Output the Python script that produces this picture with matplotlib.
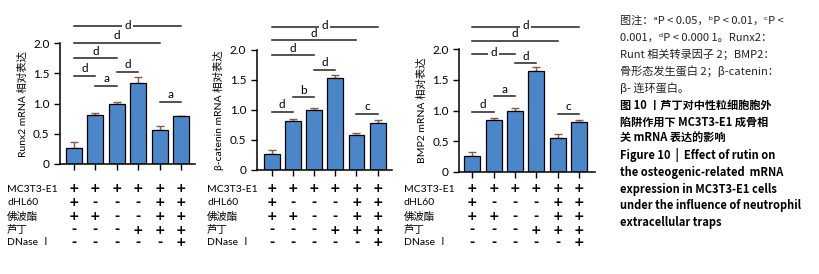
import matplotlib
matplotlib.use('Agg')
import matplotlib.pyplot as plt
from matplotlib.transforms import blended_transform_factory
import numpy as np

plt.rcParams['font.family'] = ['Lato', 'Noto Sans CJK SC', 'DejaVu Sans']

# Bar values (relative expression) and upper error
runx2 = [0.26, 0.82, 0.99, 1.35, 0.57, 0.79]
runx2_err = [0.10, 0.02, 0.03, 0.09, 0.06, 0.01]
bcat = [0.26, 0.81, 1.00, 1.54, 0.59, 0.79]
bcat_err = [0.08, 0.04, 0.03, 0.05, 0.02, 0.05]
bmp2 = [0.25, 0.84, 1.00, 1.65, 0.55, 0.82]
bmp2_err = [0.07, 0.04, 0.04, 0.06, 0.07, 0.03]

ylabels = ['Runx2 mRNA 相对表达', 'β-catenin mRNA 相对表达', 'BMP2 mRNA 相对表达']

# significance brackets: (from, to, height, letter, text on the line)
sig_runx2 = [(0, 5, 2.28, 'd', True), (0, 4, 2.00, 'd', False), (0, 2, 1.75, 'd', False),
             (0, 1, 1.46, 'd', False), (1, 2, 1.29, 'a', False), (2, 3, 1.53, 'd', False),
             (4, 5, 1.03, 'a', False)]
sig_bcat = [(0, 5, 2.39, 'd', True), (0, 4, 2.16, 'd', False), (0, 2, 1.91, 'd', False),
            (2, 3, 1.67, 'd', False), (0, 1, 0.97, 'd', False), (1, 2, 1.21, 'b', False),
            (4, 5, 0.93, 'c', False)]
sig_bmp2 = [(0, 5, 2.37, 'd', True), (0, 4, 2.14, 'd', False), (0, 2, 1.93, 'd', True),
            (2, 3, 1.77, 'd', False), (0, 1, 0.98, 'd', False), (1, 2, 1.23, 'a', False),
            (4, 5, 0.95, 'c', False)]

# treatment table
row_names = ['MC3T3-E1', 'dHL60', '佛波酯', '芦丁', 'DNase Ⅰ']
row_signs = [
    ['+', '+', '+', '+', '+', '+'],
    ['+', '-', '-', '-', '+', '+'],
    ['+', '+', '-', '-', '+', '+'],
    ['-', '-', '-', '+', '+', '+'],
    ['-', '-', '-', '-', '-', '+'],
]

caption = [
    ('图注：ᵃP < 0.05，ᵇP < 0.01，ᶜP <', 'normal'),
    ('0.001，ᵈP < 0.000 1。Runx2：', 'normal'),
    ('Runt 相关转录因子 2；BMP2：', 'normal'),
    ('骨形态发生蛋白 2；β-catenin：', 'normal'),
    ('β- 连环蛋白。', 'normal'),
    ('图 10 丨芦丁对中性粒细胞胞外', 'bold'),
    ('陷阱作用下 MC3T3-E1 成骨相', 'bold'),
    ('关 mRNA 表达的影响', 'bold'),
    ('Figure 10  |  Effect of rutin on', 'bold'),
    ('the osteogenic-related  mRNA', 'bold'),
    ('expression in MC3T3-E1 cells', 'bold'),
    ('under the influence of neutrophil', 'bold'),
    ('extracellular traps', 'bold'),
]

W, H = 819, 274
fig = plt.figure(figsize=(W / 100, H / 100), dpi=100)

# axes boxes in pixels: left, right, bottom(0), top(2.0), xlim, table label x
boxes = [(60, 195, 164, 43.3, (-0.65, 5.65), 7),
         (256.7, 391.7, 170, 50, (-0.7, 5.66), 207),
         (459.3, 595, 171.7, 49.3, (-0.61, 5.75), 404)]
panels = [(runx2, runx2_err, sig_runx2), (bcat, bcat_err, sig_bcat), (bmp2, bmp2_err, sig_bmp2)]
table_y = [189, 202.3, 216.7, 230, 242.7]

for (vals, errs, sigs), (l, r, b, t, xl, labx), ylab in zip(panels, boxes, ylabels):
    ax = fig.add_axes([l / W, 1 - b / H, (r - l) / W, (b - t) / H])
    x = np.arange(len(vals))
    ax.errorbar(x, vals, yerr=[np.zeros(len(errs)), errs], fmt='none',
                ecolor='#8a5a44', elinewidth=1.0, capsize=3, capthick=1.0, zorder=1)
    ax.bar(x, vals, width=0.75, color='#4a86c8', edgecolor='black', linewidth=0.9, zorder=2)
    ax.set_xlim(*xl)
    ax.set_ylim(0, 2.0)
    ax.set_yticks([0, 0.5, 1.0, 1.5, 2.0])
    ax.set_yticklabels(['0', '0.5', '1.0', '1.5', '2.0'], fontsize=8.5)
    ax.set_xticks(x)
    ax.set_xticklabels([])
    ax.tick_params(axis='both', direction='out', length=4, width=1.0)
    ax.spines['top'].set_visible(False)
    ax.spines['right'].set_visible(False)
    ax.spines['left'].set_linewidth(1.1)
    ax.spines['bottom'].set_linewidth(1.1)
    ax.set_ylabel(ylab, fontsize=7.5, labelpad=4)

    for s, e, h, lab, inline in sigs:
        ax.plot([s, e], [h, h], color='#222222', lw=1.1, clip_on=False)
        if inline:
            ax.text((s + e) / 2, h + 0.02, lab, ha='center', va='center', fontsize=8.5,
                    bbox=dict(facecolor='white', edgecolor='none', pad=1.5), clip_on=False)
        else:
            ax.text((s + e) / 2, h + 0.03, lab, ha='center', va='bottom', fontsize=8.5,
                    clip_on=False)

    tr = blended_transform_factory(ax.transData, fig.transFigure)
    for name, signs, yy in zip(row_names, row_signs, table_y):
        fig.text(labx / W, 1 - yy / H, name, ha='left', va='center', fontsize=7.5)
        for xi, sg in zip(x, signs):
            ax.text(xi, 1 - yy / H, sg, transform=tr, ha='center', va='center',
                    fontsize=9, fontweight='bold', family='DejaVu Sans', clip_on=False)

for i, (line, wt) in enumerate(caption):
    fig.text(620 / W, 1 - (21 + i * 16.8) / H, line, ha='left', va='center', fontsize=8,
             fontweight=wt, color='#222222' if wt == 'normal' else 'black',
             family=['Noto Sans CJK SC', 'DejaVu Sans'])

fig.savefig('out.png', dpi=100)
